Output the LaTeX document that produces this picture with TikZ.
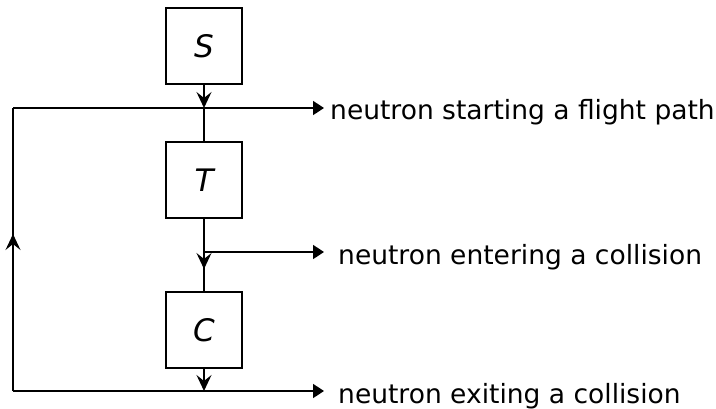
\documentclass[tikz,border=0pt]{standalone}
\usepackage{fontspec}
\setmainfont{DejaVu Sans}
\usetikzlibrary{arrows.meta}
\tikzset{
  vtip/.tip={Stealth[length=16pt,width=15pt,inset=6pt]},
  htip/.tip={Triangle[length=11pt,width=14pt]}
}
\begin{document}
\begin{tikzpicture}[x=1pt,y=-1pt,
  box/.style={draw,line width=1.7pt,minimum width=76pt,minimum height=76pt,inner sep=0pt,font=\fontsize{31}{31}\selectfont\itshape},
  wire/.style={line width=1.7pt},
  lbl/.style={anchor=base west,inner sep=0pt,font=\fontsize{26.5}{26.5}\selectfont}]
\useasboundingbox (0,0) rectangle (716,408);
\node[box] (S) at (204,46) {S};
\node[box] (T) at (204,180) {T};
\node[box] (C) at (204,330) {C};
\coordinate (j1) at (204,108);
\coordinate (j2) at (204,252);
\coordinate (m2) at (204,269);
\coordinate (j3) at (204,391);
\coordinate (tl) at (13,108);
\coordinate (bl) at (13,391);
\coordinate (ml) at (13,234);
\coordinate (e1) at (324,108);
\coordinate (e2) at (324,252);
\coordinate (e3) at (324,391);
\node[lbl] (L1) at (330,119) {neutron starting a flight path};
\node[lbl] (L2) at (338,264) {neutron entering a collision};
\node[lbl] (L3) at (338,403) {neutron exiting a collision};
\draw[wire,-vtip] (S.south) -- (j1);
\draw[wire] (j1) -- (T.north);
\draw[wire,-htip] (tl) -- (e1);
\draw[wire] (T.south) -- (C.north);
\draw[wire,-vtip] (T.south) -- (m2);
\draw[wire,-htip] (j2) -- (e2);
\draw[wire,-vtip] (C.south) -- (j3);
\draw[wire,-htip] (bl) -- (e3);
\draw[wire] (bl) -- (tl);
\draw[wire,-vtip] (bl) -- (ml);
\end{tikzpicture}
\end{document}
